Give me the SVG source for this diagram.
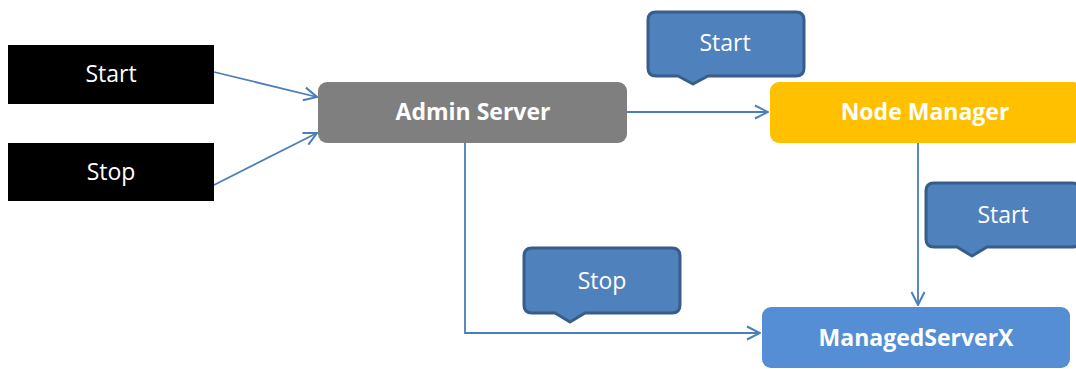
<svg xmlns="http://www.w3.org/2000/svg" width="1076" height="369" viewBox="0 0 1076 369">
  <defs>
    <marker id="arrow" viewBox="0 0 16 16" refX="15" refY="8" markerWidth="16" markerHeight="16" markerUnits="userSpaceOnUse" orient="auto">
      <path d="M2,1.5 L15,8 L2,14.5" fill="none" stroke="#4a7ebb" stroke-width="2"/>
    </marker>
    <style>
      .lbl { font-family: "Open Sans", "Liberation Sans", sans-serif; fill: #ffffff; text-anchor: middle; dominant-baseline: central; }
      .bold { font-weight: bold; font-size: 23px; }
      .plain { font-size: 23px; }
      .call { fill: #4f81bd; stroke: #385d8a; stroke-width: 3; stroke-linejoin: round; }
      .conn { fill: none; stroke: #4a7ebb; stroke-width: 1.8; marker-end: url(#arrow); }
    </style>
  </defs>

  <!-- connectors -->
  <g id="connectors">
    <path class="conn" d="M214,72 L317,97"/>
    <path class="conn" d="M214,185 L317,133"/>
    <path class="conn" d="M627,112 L768,112"/>
    <path class="conn" d="M465,143 L465,333 L760,333"/>
    <path class="conn" d="M918,143 L918,305"/>
  </g>

  <g id="start-cmd">
    <rect x="8" y="45" width="206" height="59" fill="#000000"/>
    <text class="lbl plain" x="111" y="73">Start</text>
  </g>

  <g id="stop-cmd">
    <rect x="8" y="143" width="206" height="58" fill="#000000"/>
    <text class="lbl plain" x="111" y="171">Stop</text>
  </g>

  <g id="admin-server">
    <rect x="318" y="82" width="309" height="61" rx="9" fill="#7f7f7f"/>
    <text class="lbl bold" x="473" y="111">Admin Server</text>
  </g>

  <g id="node-manager">
    <rect x="770" y="82" width="312" height="61" rx="9" fill="#ffc000"/>
    <text class="lbl bold" x="925" y="111">Node Manager</text>
  </g>

  <g id="managed-server">
    <rect x="762" y="307" width="308" height="61" rx="9" fill="#558ed5"/>
    <text class="lbl bold" x="916" y="337">ManagedServerX</text>
  </g>

  <g id="callout-start-nm">
    <path class="call" d="M656,12 L796,12 Q804,12 804,20 L804,68 Q804,76 796,76 L708,76 L693,84 L678,76 L656,76 Q648,76 648,68 L648,20 Q648,12 656,12 Z"/>
    <text class="lbl plain" x="725" y="42">Start</text>
  </g>

  <g id="callout-start-ms">
    <path class="call" d="M934,183 L1072,183 Q1080,183 1080,191 L1080,239 Q1080,247 1072,247 L987,247 L972,256 L957,247 L934,247 Q926,247 926,239 L926,191 Q926,183 934,183 Z"/>
    <text class="lbl plain" x="1003" y="214">Start</text>
  </g>

  <g id="callout-stop-ms">
    <path class="call" d="M532,248 L672,248 Q680,248 680,256 L680,305 Q680,313 672,313 L585,313 L570,322 L555,313 L532,313 Q524,313 524,305 L524,256 Q524,248 532,248 Z"/>
    <text class="lbl plain" x="602" y="280">Stop</text>
  </g>
</svg>
